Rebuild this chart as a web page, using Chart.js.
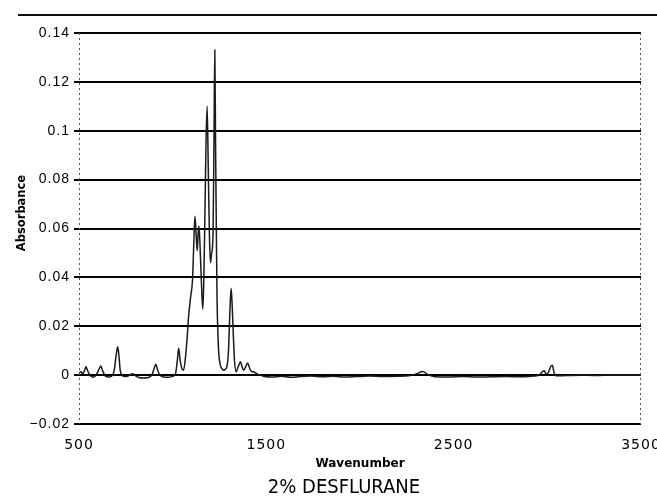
<!DOCTYPE html>
<html lang="en">
<head>
<meta charset="UTF-8">
<title>2% Desflurane IR spectrum</title>
<style>
  body { margin: 0; background: #fff; }
  .wrap { position: relative; width: 657px; height: 504px; }
</style>
</head>
<body>
<div class="wrap"><canvas id="spectrum" width="657" height="504"></canvas></div>
<script src="https://cdn.jsdelivr.net/npm/chart.js"></script>
<script>
  // Spectrum samples (wavenumber, absorbance)
  const wavenumbers = [
    500, 510, 520, 530, 537, 545, 555, 570, 585, 600, 610, 617, 625, 640, 660, 680,
    690, 698, 707, 713, 720, 735, 755, 775, 787, 800, 820, 845, 870, 890, 900, 910,
    918, 930, 950, 975, 1000, 1015, 1025, 1032, 1040, 1050, 1058, 1068, 1078, 1085,
    1096, 1106, 1112, 1119, 1125, 1131, 1136, 1140, 1145, 1150, 1156, 1161, 1166,
    1172, 1178, 1184, 1190, 1196, 1202, 1208, 1212, 1216, 1221, 1225, 1229, 1233,
    1237, 1241, 1246, 1255, 1265, 1273, 1282, 1291, 1298, 1305, 1312, 1318, 1324,
    1330, 1339, 1350, 1362, 1370, 1379, 1390, 1400, 1410, 1420, 1432, 1450, 1468,
    1490, 1530, 1580, 1630, 1680, 1740, 1800, 1860, 1920, 1980, 2050, 2120, 2200,
    2260, 2300, 2335, 2360, 2400, 2470, 2550, 2630, 2700, 2780, 2860, 2930, 2960,
    2975, 2984, 2992, 3005, 3018, 3027, 3036, 3050, 3100, 3180, 3260, 3340, 3420, 3500
  ];
  const absorbance = [
    0.0005, 0.0015, 0.0005, 0.002, 0.0034, 0.002, 0.0005, -0.0008, -0.0005, 0.0012, 0.003, 0.0037, 0.002, -0.0003, -0.0008, 0.0,
    0.003, 0.008, 0.0116, 0.008, 0.002, -0.0004, -0.0006, 0.0002, 0.0006, -0.0002, -0.001, -0.0012, -0.001, 0.0002, 0.0025, 0.0045,
    0.0025, 0.0002, -0.0008, -0.0009, -0.0005, 0.0005, 0.006, 0.011, 0.006, 0.0025, 0.002, 0.007, 0.016, 0.024,
    0.032, 0.039, 0.052, 0.065, 0.058, 0.051, 0.058, 0.061, 0.055, 0.045, 0.033, 0.027, 0.038,
    0.065, 0.095, 0.110, 0.085, 0.058, 0.046, 0.050, 0.052, 0.060, 0.100, 0.133, 0.095, 0.060,
    0.031, 0.018, 0.009, 0.004, 0.0025, 0.002, 0.0025, 0.004, 0.010, 0.025, 0.0355, 0.028, 0.016,
    0.006, 0.0014, 0.0035, 0.0055, 0.0035, 0.002, 0.0035, 0.005, 0.003, 0.0015, 0.0014, 0.0005, 0.0,
    -0.0006, -0.0008, -0.0005, -0.0009, -0.0006, -0.0004, -0.0007, -0.0005, -0.0008, -0.0006, -0.0004, -0.0006, -0.0005,
    -0.0003, 0.0005, 0.0015, 0.0003, -0.0007, -0.0008, -0.0006, -0.0008, -0.0007, -0.0006, -0.0007, -0.0004, 0.0002,
    0.0015, 0.0018, 0.0005, 0.001, 0.0035, 0.004, 0.001, -0.0003, -0.0002, 0.0, -0.0002, 0.0, -0.0001, 0.0
  ];
  const xTicks = [500, 1500, 2500, 3500];
  const yTicks = [-0.02, 0, 0.02, 0.04, 0.06, 0.08, 0.1, 0.12, 0.14];
  const yTickLabels = ['\u22120.02', '0', '0.02', '0.04', '0.06', '0.08', '0.1', '0.12', '0.14'];

  const points = wavenumbers.map((w, i) => ({ x: w, y: absorbance[i] }));

  // a little tracking for the axis numbers
  const spacing = {
    id: 'spacing',
    beforeDraw(chart) { chart.ctx.letterSpacing = '1px'; },
    afterDraw(chart) { chart.ctx.letterSpacing = '0px'; }
  };

  // dotted side borders, page rule, axis captions and the sample name
  const frame = {
    id: 'frame',
    afterDraw(chart) {
      const { ctx, chartArea: a } = chart;
      ctx.save();
      ctx.letterSpacing = '0px';
      ctx.strokeStyle = '#555';
      ctx.lineWidth = 1;
      ctx.setLineDash([2, 3]);
      ctx.beginPath();
      ctx.moveTo(a.left + 0.5, a.top); ctx.lineTo(a.left + 0.5, a.bottom);
      ctx.moveTo(a.right - 0.5, a.top); ctx.lineTo(a.right - 0.5, a.bottom);
      ctx.stroke();
      ctx.setLineDash([]);
      ctx.strokeStyle = '#111';
      ctx.lineWidth = 2;
      ctx.beginPath();
      ctx.moveTo(18, 15); ctx.lineTo(657, 15);
      ctx.stroke();

      ctx.fillStyle = '#000';
      ctx.textAlign = 'center';
      ctx.textBaseline = 'middle';
      ctx.font = 'bold 12px "DejaVu Sans", sans-serif';
      ctx.fillText('Wavenumber', (a.left + a.right) / 2, 464);

      ctx.font = '20px "DejaVu Sans Condensed", "Liberation Sans Narrow", sans-serif';
      ctx.fillText('2% DESFLURANE', 344, 488);

      ctx.translate(22, 213);
      ctx.rotate(-Math.PI / 2);
      ctx.font = 'bold 11.5px "DejaVu Sans", sans-serif';
      ctx.fillText('Absorbance', 0, 0);
      ctx.restore();
    }
  };

  new Chart(document.getElementById('spectrum'), {
    type: 'line',
    data: {
      datasets: [{
        data: points,
        borderColor: '#1a1a1a',
        borderWidth: 1.5,
        pointRadius: 0,
        cubicInterpolationMode: 'monotone',
        fill: false
      }]
    },
    options: {
      responsive: false,
      animation: false,
      layout: { padding: { left: 0, right: 16, top: 33, bottom: 50 } },
      plugins: {
        legend: { display: false },
        tooltip: { enabled: false }
      },
      scales: {
        x: {
          type: 'linear',
          min: 500,
          max: 3500,
          afterBuildTicks(scale) { scale.ticks = xTicks.map(v => ({ value: v })); },
          afterFit(scale) {
            scale.height = 30;
            scale.paddingLeft = 0;
            scale.paddingRight = 0;
          },
          grid: { display: false },
          border: { display: false },
          ticks: {
            color: '#000',
            padding: 5,
            maxRotation: 0,
            font: { family: '"DejaVu Sans", sans-serif', size: 14 },
            callback: v => String(v)
          }
        },
        y: {
          min: -0.02,
          max: 0.14,
          afterBuildTicks(scale) { scale.ticks = yTicks.map(v => ({ value: v })); },
          afterFit(scale) { scale.width = 79; },
          grid: { color: '#000', lineWidth: 2, tickLength: 5, drawTicks: true },
          border: { display: false },
          ticks: {
            color: '#000',
            padding: 4,
            font: { family: '"Liberation Sans", Arial, sans-serif', size: 14 },
            callback: (v, i) => yTickLabels[i]
          }
        }
      }
    },
    plugins: [spacing, frame]
  });
</script>
</body>
</html>
